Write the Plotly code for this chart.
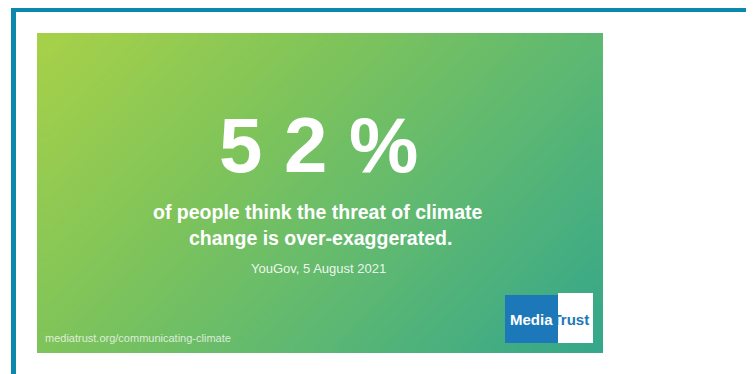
import plotly.graph_objects as go
import numpy as np

# ---- content ----
stat_value = 52
headline_lines = ["of people think the threat of climate", "change is over-exaggerated."]
source_label = "YouGov, 5 August 2021"
url_label = "mediatrust.org/communicating-climate"
logo_parts = ["Media", "Trust"]

# ---- style ----
W, H = 754, 374
OFF = 8  # page body margin offset
BORDER = "#0b88ab"
LOGO_BLUE = "#1c78b8"
panel = dict(x0=37, x1=603, y0=33, y1=353)
grad_stops = [[0.0, "#a8d148"], [0.35, "#7fc45a"], [0.65, "#5db872"], [1.0, "#33a68b"]]

fig = go.Figure()

# gradient background panel (heatmap with bilinear smoothing)
n = 24
xe = np.linspace(panel["x0"], panel["x1"], n + 1)
ye = np.linspace(panel["y0"], panel["y1"], n + 1)
u = (np.arange(n) + 0.5) / n
zz = 0.65 * u[None, :] + 0.35 * u[:, None]
fig.add_trace(go.Heatmap(x=xe, y=ye, z=zz, zsmooth="best", colorscale=grad_stops,
                         zmin=0, zmax=1, showscale=False, hoverinfo="skip"))

# border frame (top + left)
fig.add_shape(type="rect", x0=11, x1=W + 20, y0=7, y1=12, fillcolor=BORDER, line_width=0, layer="above")
fig.add_shape(type="rect", x0=11, x1=16, y0=7, y1=H + 20, fillcolor=BORDER, line_width=0, layer="above")

# logo
fig.add_shape(type="rect", x0=505, x1=558, y0=295, y1=343, fillcolor=LOGO_BLUE, line_width=0, layer="above")
fig.add_shape(type="rect", x0=558, x1=593, y0=293, y1=343, fillcolor="white", line_width=0, layer="above")

big = " ".join(str(stat_value)) + " %"
fig.add_annotation(x=318, y=145, text=big, showarrow=False, xanchor="center", yanchor="middle",
                   font=dict(family="Liberation Sans", size=78, color="white", weight="bold"))
fig.add_annotation(x=318, y=212, text=headline_lines[0], showarrow=False, xanchor="center", yanchor="middle",
                   font=dict(family="Liberation Sans", size=19.5, color="white", weight="bold"))
fig.add_annotation(x=320, y=238, text=headline_lines[1], showarrow=False, xanchor="center", yanchor="middle",
                   font=dict(family="Liberation Sans", size=19.5, color="white", weight="bold"))
fig.add_annotation(x=318, y=268, text=source_label, showarrow=False, xanchor="center", yanchor="middle",
                   font=dict(family="Liberation Sans", size=13, color="rgba(255,255,255,0.9)"))
fig.add_annotation(x=43, y=338, text=url_label, showarrow=False, xanchor="left", yanchor="middle",
                   font=dict(family="Liberation Sans", size=11, color="rgba(255,255,255,0.75)"))
fig.add_annotation(x=549, y=319, showarrow=False, xanchor="center", yanchor="middle",
                   text=f"<b><span style='color:white'>{logo_parts[0]}</span>"
                        f"<span style='color:{LOGO_BLUE}'>{logo_parts[1]}</span></b>",
                   font=dict(family="Liberation Sans", size=15, color="white"))

fig.update_layout(
    width=W, height=H, margin=dict(l=0, r=0, t=0, b=0),
    paper_bgcolor="white", plot_bgcolor="white", showlegend=False,
    xaxis=dict(range=[OFF, W + OFF], visible=False, fixedrange=True),
    yaxis=dict(range=[H + OFF, OFF], visible=False, fixedrange=True),
)
fig.write_html("out.html")
